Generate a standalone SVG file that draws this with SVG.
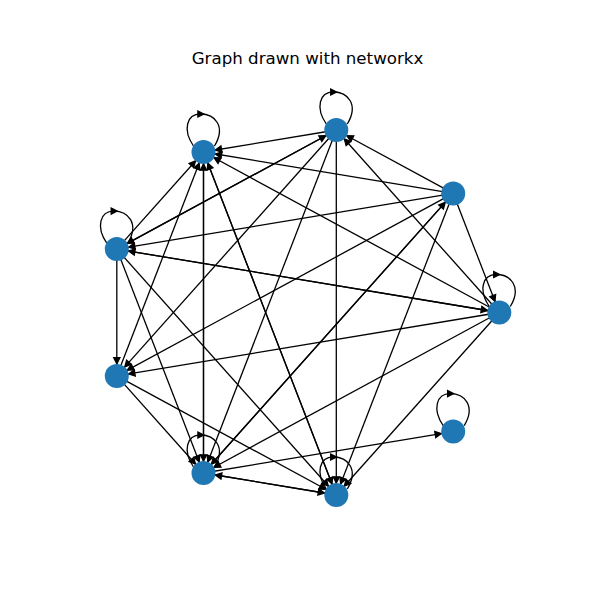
<svg xmlns="http://www.w3.org/2000/svg" xmlns:xlink="http://www.w3.org/1999/xlink" width="600" height="600" viewBox="0 0 600 600">
<style>
.edge{stroke:#000;stroke-width:1.3;fill:none;marker-end:url(#arr)}
.loop{stroke:#000;stroke-width:1.3;fill:none;marker-mid:url(#larr)}
.node{fill:#1f77b4}
.title{font-family:"DejaVu Sans",sans-serif;font-size:16.67px;fill:#000;text-anchor:middle}
</style>
<defs>
<marker id="arr" markerUnits="userSpaceOnUse" viewBox="-20 -6 40 12" markerWidth="40" markerHeight="12" refX="0" refY="0" orient="auto">
<path d="M-12,0 L-18.2,-3.1 L-18.2,3.1 Z" fill="#000" stroke="#000" stroke-width="1.3"/>
</marker>
<marker id="larr" markerUnits="userSpaceOnUse" viewBox="-6 -6 12 12" markerWidth="12" markerHeight="12" refX="0" refY="0" orient="auto">
<path d="M3.4,0 L-2.6,-3 L-2.6,3 Z" fill="#000" stroke="#000" stroke-width="1.3"/>
</marker>
<path id="lp" class="loop" d="M-10,-6 C-21,-22 -17,-38 -3,-38 C11,-38 23,-26 11,-6"/>
</defs>
<rect width="600" height="600" fill="#fff"/>
<text class="title" x="307.5" y="64">Graph drawn with networkx</text>
<g id="connectors">
<line class="edge" x1="336.3" y1="130" x2="203.5" y2="152"/>
<line class="edge" x1="336.3" y1="130" x2="116.8" y2="249.1"/>
<line class="edge" x1="116.8" y1="249.1" x2="336.3" y2="130"/>
<line class="edge" x1="336.3" y1="130" x2="116.8" y2="375.9"/>
<line class="edge" x1="336.3" y1="130" x2="203.5" y2="473"/>
<line class="edge" x1="336.3" y1="130" x2="336.3" y2="495"/>
<line class="edge" x1="453.2" y1="193.4" x2="336.3" y2="130"/>
<line class="edge" x1="499.3" y1="312.5" x2="336.3" y2="130"/>
<line class="edge" x1="453.2" y1="193.4" x2="203.5" y2="152"/>
<line class="edge" x1="499.3" y1="312.5" x2="203.5" y2="152"/>
<line class="edge" x1="116.8" y1="249.1" x2="203.5" y2="152"/>
<line class="edge" x1="116.8" y1="375.9" x2="203.5" y2="152"/>
<line class="edge" x1="203.5" y1="473" x2="203.5" y2="152"/>
<line class="edge" x1="203.5" y1="152" x2="203.5" y2="473"/>
<line class="edge" x1="336.3" y1="495" x2="203.5" y2="152"/>
<line class="edge" x1="203.5" y1="152" x2="336.3" y2="495"/>
<line class="edge" x1="453.2" y1="193.4" x2="116.8" y2="249.1"/>
<line class="edge" x1="499.3" y1="312.5" x2="116.8" y2="249.1"/>
<line class="edge" x1="116.8" y1="249.1" x2="499.3" y2="312.5"/>
<line class="edge" x1="453.2" y1="193.4" x2="499.3" y2="312.5"/>
<line class="edge" x1="453.2" y1="193.4" x2="116.8" y2="375.9"/>
<line class="edge" x1="453.2" y1="193.4" x2="203.5" y2="473"/>
<line class="edge" x1="203.5" y1="473" x2="453.2" y2="193.4"/>
<line class="edge" x1="453.2" y1="193.4" x2="336.3" y2="495"/>
<line class="edge" x1="116.8" y1="249.1" x2="116.8" y2="375.9"/>
<line class="edge" x1="116.8" y1="249.1" x2="203.5" y2="473"/>
<line class="edge" x1="116.8" y1="249.1" x2="336.3" y2="495"/>
<line class="edge" x1="499.3" y1="312.5" x2="116.8" y2="375.9"/>
<line class="edge" x1="499.3" y1="312.5" x2="203.5" y2="473"/>
<line class="edge" x1="499.3" y1="312.5" x2="336.3" y2="495"/>
<line class="edge" x1="116.8" y1="375.9" x2="203.5" y2="473"/>
<line class="edge" x1="116.8" y1="375.9" x2="336.3" y2="495"/>
<line class="edge" x1="203.5" y1="473" x2="453.2" y2="431.6"/>
<line class="edge" x1="203.5" y1="473" x2="336.3" y2="495"/>
<line class="edge" x1="336.3" y1="495" x2="203.5" y2="473"/>
<use href="#lp" xlink:href="#lp" x="336.3" y="130"/>
<use href="#lp" xlink:href="#lp" x="203.5" y="152"/>
<use href="#lp" xlink:href="#lp" x="116.8" y="249.1"/>
<use href="#lp" xlink:href="#lp" x="499.3" y="312.5"/>
<use href="#lp" xlink:href="#lp" x="453.2" y="431.6"/>
<use href="#lp" xlink:href="#lp" x="203.5" y="473"/>
<use href="#lp" xlink:href="#lp" x="336.3" y="495"/>
</g>
<g id="node-A"><circle class="node" cx="336.3" cy="130" r="12"/></g>
<g id="node-B"><circle class="node" cx="203.5" cy="152" r="12"/></g>
<g id="node-C"><circle class="node" cx="453.2" cy="193.4" r="12"/></g>
<g id="node-D"><circle class="node" cx="116.8" cy="249.1" r="12"/></g>
<g id="node-E"><circle class="node" cx="499.3" cy="312.5" r="12"/></g>
<g id="node-F"><circle class="node" cx="116.8" cy="375.9" r="12"/></g>
<g id="node-G"><circle class="node" cx="453.2" cy="431.6" r="12"/></g>
<g id="node-H"><circle class="node" cx="203.5" cy="473" r="12"/></g>
<g id="node-I"><circle class="node" cx="336.3" cy="495" r="12"/></g>
</svg>
